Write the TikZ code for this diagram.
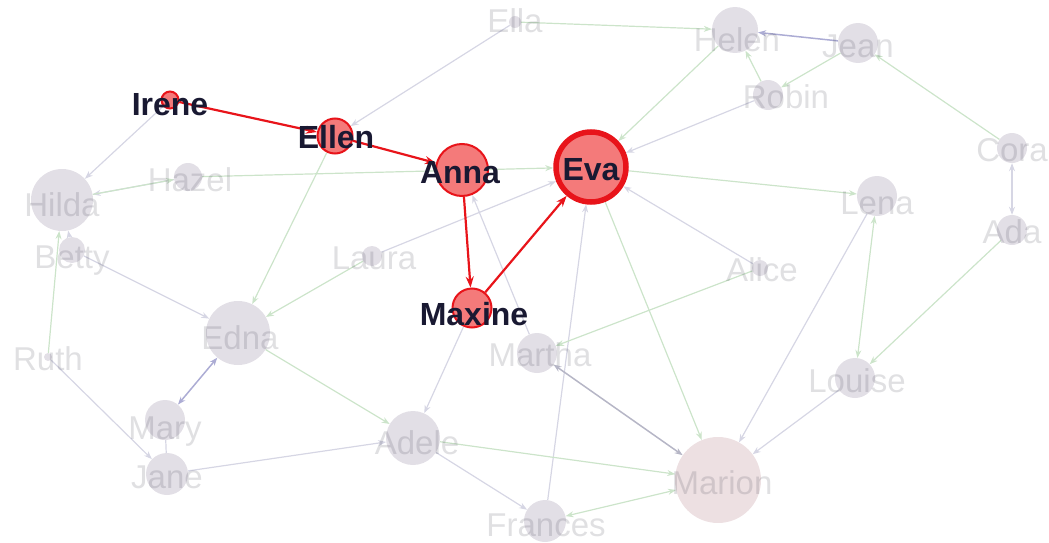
\documentclass[tikz,border=0pt]{standalone}
\usepackage{fontspec}
\setmainfont{Liberation Sans}
\usetikzlibrary{arrows.meta,backgrounds}
\definecolor{gfill}{RGB}{226,223,230}
\definecolor{mfill}{RGB}{237,224,226}
\definecolor{rfill}{RGB}{244,122,122}
\definecolor{rline}{RGB}{232,20,26}
\definecolor{rlab}{RGB}{25,25,50}
\definecolor{glab}{RGB}{60,60,75}
\definecolor{egrey}{RGB}{214,214,228}
\definecolor{egreen}{RGB}{204,228,202}
\definecolor{epurple}{RGB}{172,172,212}
\definecolor{edark}{RGB}{182,182,198}
\tikzset{
  gnode/.style={circle, fill=gfill, draw=none, minimum size=#1, inner sep=0pt},
  mnode/.style={circle, fill=mfill, draw=none, minimum size=#1, inner sep=0pt},
  rnode/.style={circle, fill=rfill, draw=rline, line width=2pt, minimum size=#1, inner sep=0pt},
  glabel/.style={anchor=base, text=glab, text opacity=0.16, font=\fontsize{33}{36}\selectfont, inner sep=0pt},
  rlabel/.style={anchor=base, text=rlab, font=\bfseries\fontsize{32}{36}\selectfont, inner sep=0pt},
  redge/.style={draw=rline, line width=2.2pt, -{Stealth[length=11pt,width=8pt]}},
  gedge/.style={draw=egrey, line width=1.2pt, -{Stealth[length=8pt,width=6pt]}},
  gnedge/.style={draw=egreen, line width=1.2pt, -{Stealth[length=8pt,width=6pt]}},
  pedge/.style={draw=epurple, line width=1.5pt, -{Stealth[length=8pt,width=6pt]}},
  dedge/.style={draw=edark, line width=1.5pt, -{Stealth[length=8pt,width=6pt]}},
  both/.style={{Stealth[length=8pt,width=6pt]}-{Stealth[length=8pt,width=6pt]}},
}
\begin{document}
\begin{tikzpicture}[x=1pt,y=-1pt]
\useasboundingbox (0,0) rectangle (1049,543);
% grey nodes
\node[gnode=12] (ella) at (515,22) {};
\node[gnode=46] (helen) at (735,30) {};
\node[gnode=40] (jean) at (858,43) {};
\node[gnode=30] (robin) at (768,95) {};
\node[gnode=30] (cora) at (1012,148) {};
\node[gnode=30] (ada) at (1012,230) {};
\node[gnode=40] (lena) at (877,196) {};
\node[gnode=16] (alice) at (760,268) {};
\node[gnode=40] (louise) at (855,378) {};
\node[mnode=86] (marion) at (718,480) {};
\node[gnode=42] (frances) at (545,521) {};
\node[gnode=40] (martha) at (537,353) {};
\node[gnode=54] (adele) at (413,438) {};
\node[gnode=40] (mary) at (165,420) {};
\node[gnode=42] (jane) at (167,474) {};
\node[gnode=64] (edna) at (238,333) {};
\node[gnode=8] (ruth) at (48,357) {};
\node[gnode=26] (betty) at (72,250) {};
\node[gnode=62] (hilda) at (62,200) {};
\node[gnode=28] (hazel) at (188,177) {};
\node[gnode=20] (laura) at (372,256) {};
% red nodes
\node[rnode=17] (irene) at (170,100) {};
\node[rnode=35] (ellen) at (335,136) {};
\node[rnode=52] (anna) at (462,170) {};
\node[rnode=70, line width=5.5pt] (eva) at (591,167) {};
\node[rnode=39] (maxine) at (472,308) {};
% faint edges
\begin{pgfonlayer}{background}
\draw[gedge] (ella) -- (ellen);
\draw[gedge] (irene) -- (hilda);
\draw[gedge] (hazel) -- (hilda);
\draw[gnedge] (hilda) -- (hazel);
\draw[gedge] (betty) -- (hilda);
\draw[gedge] (betty) -- (edna);
\draw[gedge] (ruth) -- (jane);
\draw[gedge,-] (mary) -- (jane);
\draw[gedge] (jane) -- (adele);
\draw[gedge] (maxine) -- (adele);
\draw[gedge] (adele) -- (frances);
\draw[gedge] (frances) -- (eva);
\draw[gedge] (martha) -- (anna);
\draw[gedge] (alice) -- (eva);
\draw[gedge] (lena) -- (marion);
\draw[gedge] (louise) -- (marion);
\draw[gedge,both] (cora) -- (ada);
\draw[gedge] (robin) -- (eva);
\draw[gedge] (laura) -- (eva);
\draw[gnedge] (ella) -- (helen);
\draw[gnedge] (hazel) -- (eva);
\draw[gnedge] (ellen) -- (edna);
\draw[gnedge] (laura) -- (edna);
\draw[gnedge] (ruth) -- (hilda);
\draw[gnedge] (edna) -- (adele);
\draw[gnedge] (adele) -- (marion);
\draw[gnedge,both] (frances) -- (marion);
\draw[gnedge] (alice) -- (martha);
\draw[gnedge] (eva) -- (marion);
\draw[gnedge] (eva) -- (lena);
\draw[gnedge,both] (lena) -- (louise);
\draw[gnedge] (ada) -- (louise);
\draw[gnedge] (cora) -- (jean);
\draw[gnedge] (jean) -- (robin);
\draw[gnedge] (robin) -- (helen);
\draw[gnedge] (helen) -- (eva);
\draw[pedge] (jean) -- (helen);
\draw[pedge,both] (edna) -- (mary);
\draw[dedge,both] (martha) -- (marion);
\end{pgfonlayer}
% red edges
\draw[redge] (irene) -- (ellen);
\draw[redge] (ellen) -- (anna);
\draw[redge] (anna) -- (maxine);
\draw[redge] (maxine) -- (eva);
% grey labels
\node[glabel] (ella-l) at (515,33) {Ella};
\node[glabel] (helen-l) at (737,52) {Helen};
\node[glabel] (jean-l) at (858,58) {Jean};
\node[glabel] (robin-l) at (786,108) {Robin};
\node[glabel] (cora-l) at (1012,161) {Cora};
\node[glabel] (ada-l) at (1012,243) {Ada};
\node[glabel] (lena-l) at (877,214) {Lena};
\node[glabel] (alice-l) at (762,281) {Alice};
\node[glabel] (louise-l) at (857,392) {Louise};
\node[glabel] (marion-l) at (722,494) {Marion};
\node[glabel] (frances-l) at (546,536) {Frances};
\node[glabel] (martha-l) at (540,366) {Martha};
\node[glabel] (adele-l) at (417,454) {Adele};
\node[glabel] (mary-l) at (165,439) {Mary};
\node[glabel] (jane-l) at (167,488) {Jane};
\node[glabel] (edna-l) at (240,349) {Edna};
\node[glabel] (ruth-l) at (48,370) {Ruth};
\node[glabel] (betty-l) at (72,268) {Betty};
\node[glabel] (hilda-l) at (62,216) {Hilda};
\node[glabel] (hazel-l) at (190,191) {Hazel};
\node[glabel] (laura-l) at (374,269) {Laura};
% red labels
\node[rlabel] (irene-l) at (170,115) {Irene};
\node[rlabel] (ellen-l) at (336,148) {Ellen};
\node[rlabel] (anna-l) at (460,183) {Anna};
\node[rlabel] (eva-l) at (591,180) {Eva};
\node[rlabel] (maxine-l) at (474,325) {Maxine};
\end{tikzpicture}
\end{document}
